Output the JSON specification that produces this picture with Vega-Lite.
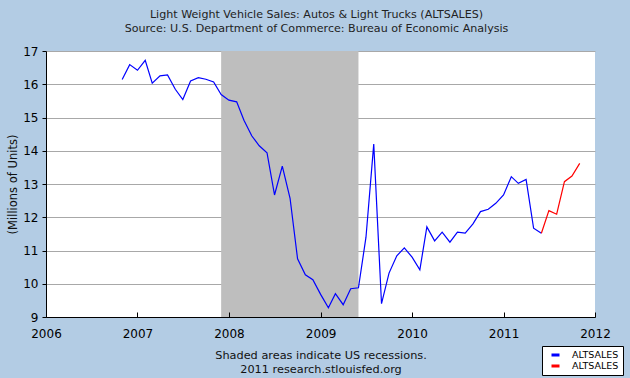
{
  "$schema": "https://vega.github.io/schema/vega-lite/v6.json",
  "width": 549,
  "height": 266,
  "autosize": "none",
  "padding": {"left": 46, "top": 51, "right": 35, "bottom": 61},
  "background": "#b3cce4",
  "config": {"view": {"fill": "white", "stroke": null}, "font": "DejaVu Sans"},
  "title": {
    "text": ["Light Weight Vehicle Sales: Autos & Light Trucks (ALTSALES)", "Source: U.S. Department of Commerce: Bureau of Economic Analysis"],
    "fontSize": 11.1,
    "fontWeight": "normal",
    "color": "#222222",
    "anchor": "middle",
    "offset": 11,
    "lineHeight": 14,
    "dx": -4
  },
  "layer": [
    {
      "data": {"values": [{"start": "2007-12-01", "end": "2009-06-01"}]},
      "mark": {"type": "rect", "color": "#bebebe"},
      "encoding": {
        "x": {"field": "start", "type": "temporal"},
        "x2": {"field": "end"}
      }
    },
    {
      "data": {"values": [
        {"date": "2006-11-01", "value": 16.14, "series": "hist"},
        {"date": "2006-12-01", "value": 16.59, "series": "hist"},
        {"date": "2007-01-01", "value": 16.42, "series": "hist"},
        {"date": "2007-02-01", "value": 16.72, "series": "hist"},
        {"date": "2007-03-01", "value": 16.03, "series": "hist"},
        {"date": "2007-04-01", "value": 16.25, "series": "hist"},
        {"date": "2007-05-01", "value": 16.28, "series": "hist"},
        {"date": "2007-06-01", "value": 15.85, "series": "hist"},
        {"date": "2007-07-01", "value": 15.54, "series": "hist"},
        {"date": "2007-08-01", "value": 16.10, "series": "hist"},
        {"date": "2007-09-01", "value": 16.20, "series": "hist"},
        {"date": "2007-10-01", "value": 16.15, "series": "hist"},
        {"date": "2007-11-01", "value": 16.07, "series": "hist"},
        {"date": "2007-12-01", "value": 15.69, "series": "hist"},
        {"date": "2008-01-01", "value": 15.52, "series": "hist"},
        {"date": "2008-02-01", "value": 15.47, "series": "hist"},
        {"date": "2008-03-01", "value": 14.92, "series": "hist"},
        {"date": "2008-04-01", "value": 14.45, "series": "hist"},
        {"date": "2008-05-01", "value": 14.15, "series": "hist"},
        {"date": "2008-06-01", "value": 13.94, "series": "hist"},
        {"date": "2008-07-01", "value": 12.67, "series": "hist"},
        {"date": "2008-08-01", "value": 13.54, "series": "hist"},
        {"date": "2008-09-01", "value": 12.57, "series": "hist"},
        {"date": "2008-10-01", "value": 10.75, "series": "hist"},
        {"date": "2008-11-01", "value": 10.27, "series": "hist"},
        {"date": "2008-12-01", "value": 10.12, "series": "hist"},
        {"date": "2009-01-01", "value": 9.68, "series": "hist"},
        {"date": "2009-02-01", "value": 9.28, "series": "hist"},
        {"date": "2009-03-01", "value": 9.70, "series": "hist"},
        {"date": "2009-04-01", "value": 9.37, "series": "hist"},
        {"date": "2009-05-01", "value": 9.85, "series": "hist"},
        {"date": "2009-06-01", "value": 9.88, "series": "hist"},
        {"date": "2009-07-01", "value": 11.40, "series": "hist"},
        {"date": "2009-08-01", "value": 14.20, "series": "hist"},
        {"date": "2009-09-01", "value": 9.40, "series": "hist"},
        {"date": "2009-10-01", "value": 10.32, "series": "hist"},
        {"date": "2009-11-01", "value": 10.84, "series": "hist"},
        {"date": "2009-12-01", "value": 11.08, "series": "hist"},
        {"date": "2010-01-01", "value": 10.80, "series": "hist"},
        {"date": "2010-02-01", "value": 10.42, "series": "hist"},
        {"date": "2010-03-01", "value": 11.71, "series": "hist"},
        {"date": "2010-04-01", "value": 11.29, "series": "hist"},
        {"date": "2010-05-01", "value": 11.55, "series": "hist"},
        {"date": "2010-06-01", "value": 11.25, "series": "hist"},
        {"date": "2010-07-01", "value": 11.55, "series": "hist"},
        {"date": "2010-08-01", "value": 11.52, "series": "hist"},
        {"date": "2010-09-01", "value": 11.80, "series": "hist"},
        {"date": "2010-10-01", "value": 12.17, "series": "hist"},
        {"date": "2010-11-01", "value": 12.24, "series": "hist"},
        {"date": "2010-12-01", "value": 12.42, "series": "hist"},
        {"date": "2011-01-01", "value": 12.67, "series": "hist"},
        {"date": "2011-02-01", "value": 13.22, "series": "hist"},
        {"date": "2011-03-01", "value": 13.02, "series": "hist"},
        {"date": "2011-04-01", "value": 13.14, "series": "hist"},
        {"date": "2011-05-01", "value": 11.67, "series": "hist"},
        {"date": "2011-06-01", "value": 11.52, "series": "hist"},
        {"date": "2011-06-01", "value": 11.52, "series": "recent"},
        {"date": "2011-07-01", "value": 12.20, "series": "recent"},
        {"date": "2011-08-01", "value": 12.09, "series": "recent"},
        {"date": "2011-09-01", "value": 13.07, "series": "recent"},
        {"date": "2011-10-01", "value": 13.24, "series": "recent"},
        {"date": "2011-11-01", "value": 13.62, "series": "recent"}
      ]},
      "mark": {"type": "line", "strokeWidth": 1.2},
      "encoding": {
        "x": {
          "field": "date",
          "type": "temporal",
          "scale": {"type": "utc", "domain": [{"year": 2006, "month": 1, "date": 1, "utc": true}, {"year": 2012, "month": 1, "date": 1, "utc": true}]},
          "axis": {
            "title": ["Shaded areas indicate US recessions.", "2011 research.stlouisfed.org"],
            "format": "%Y",
            "tickCount": {"interval": "year", "step": 1},
            "grid": false,
            "domainColor": "black",
            "tickColor": "black",
            "tickSize": -5,
            "labelFontSize": 12,
            "labelColor": "black",
            "labelPadding": 16,
            "labelFlush": false,
            "labelOverlap": false,
            "titleFontSize": 11.3,
            "titleFontWeight": "normal",
            "titleColor": "#111111",
            "titlePadding": 10,
            "titleLineHeight": 14,
            "zindex": 1
          }
        },
        "y": {
          "field": "value",
          "type": "quantitative",
          "scale": {"domain": [9, 17], "nice": false, "zero": false},
          "axis": {
            "title": "(Millions of Units)",
            "values": [9, 10, 11, 12, 13, 14, 15, 16, 17],
            "grid": true,
            "gridColor": "#a8a8a8",
            "gridOpacity": 1,
            "domainColor": "black",
            "tickColor": "black",
            "tickSize": 4,
            "labelFontSize": 12,
            "labelColor": "black",
            "labelPadding": 4,
            "titleFontSize": 11.5,
            "titleFontWeight": "normal",
            "titleColor": "#111111",
            "titlePadding": 4
          }
        },
        "color": {
          "field": "series",
          "type": "nominal",
          "scale": {"domain": ["hist", "recent"], "range": ["#0000ff", "#ff0000"]},
          "legend": {
            "title": null,
            "orient": "none",
            "legendX": 496,
            "legendY": 295,
            "fillColor": "white",
            "strokeColor": "black",
            "padding": 4,
            "cornerRadius": 0,
            "symbolType": "stroke",
            "symbolStrokeWidth": 3,
            "symbolSize": 64,
            "symbolOffset": 4,
            "clipHeight": 10,
            "labelFontSize": 9.5,
            "labelColor": "black",
            "labelOffset": 11,
            "rowPadding": 1,
            "labelExpr": "'ALTSALES'"
          }
        }
      }
    }
  ]
}
